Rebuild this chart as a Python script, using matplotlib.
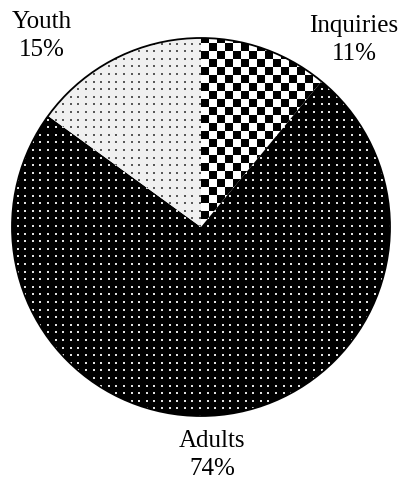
import numpy as np
import matplotlib
matplotlib.use('Agg')
import matplotlib.pyplot as plt
from matplotlib.patches import Circle

# data
labels = ['Inquiries', 'Adults', 'Youth']
shares = [11, 74, 15]

plt.rcParams['font.family'] = ['Liberation Serif', 'DejaVu Serif']

R_PX = 189   # pie radius in pixels
HALF = 200   # half size of axes in pixels
lim = HALF / R_PX

fig = plt.figure(figsize=(4.04, 4.85), dpi=100)
ax = fig.add_axes([1 / 404, 57 / 485, 2 * HALF / 404, 2 * HALF / 485])

wedges, _ = ax.pie(shares, startangle=90, counterclock=False, radius=1,
                   colors=['none'] * 3, wedgeprops=dict(linewidth=0))

# pixel patterns, one per wedge
n = 2 * HALF
jj, ii = np.meshgrid(np.arange(n), np.arange(n))

checker = (((ii // 8) + (jj // 8)) % 2).astype(float)

dot = ((ii % 7.6) < 2) & ((jj % 7.6) < 2)

adults = np.zeros((n, n))
adults[dot] = 0.88

youth = np.full((n, n), 0.94)
youth[dot] = 0.35

patterns = [checker, adults, youth]

for w, pat in zip(wedges, patterns):
    im = ax.imshow(pat, cmap='gray', vmin=0, vmax=1, interpolation='nearest',
                   extent=(-lim, lim, -lim, lim), origin='upper')
    im.set_clip_path(w)

ax.add_patch(Circle((0, 0), 1, fill=False, edgecolor='black', lw=1.3))

ax.set_xlim(-lim, lim)
ax.set_ylim(-lim, lim)
ax.set_aspect('equal')
ax.axis('off')

# labels
label_pos = {'Inquiries': (354, 40), 'Adults': (212, 455), 'Youth': (42, 36)}
for lab, s in zip(labels, shares):
    x, y = label_pos[lab]
    fig.text(x / 404, 1 - y / 485, '{}\n{}%'.format(lab, s), ha='center',
             va='center', fontsize=18, linespacing=1.35)

fig.savefig('out.png', dpi=100)
